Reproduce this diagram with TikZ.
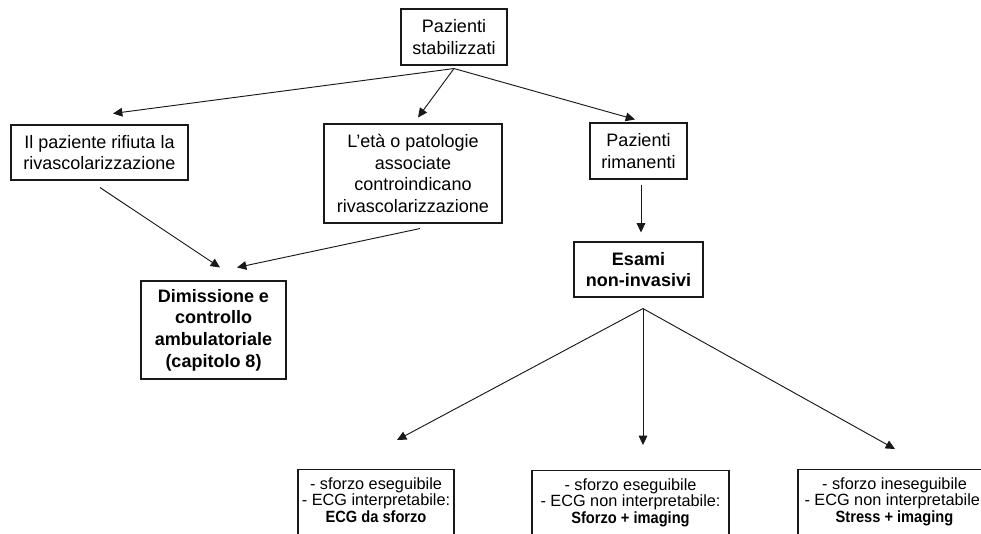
\documentclass[tikz,border=0pt]{standalone}
\usepackage{fontspec}
\setmainfont{Liberation Sans}
\newfontfamily\narrowsans[FakeStretch=0.9]{Liberation Sans}
\usetikzlibrary{arrows.meta,calc}
\newdimen\pxu \pxu=0.75pt
\begin{document}
\begin{tikzpicture}[x=0.75pt,y=-0.75pt,
  box/.style={draw=black!90, line width=0.8pt, inner sep=0pt, align=center,
    font=\fontsize{13.5pt}{16.2pt}\selectfont},
  bbox/.style={draw=black!90, line width=0.8pt, anchor=north, inner xsep=0pt, inner ysep=6pt,
    align=center, font=\fontsize{12.2pt}{12.5pt}\selectfont, text depth=45\pxu},
  arr/.style={draw=black!90, line width=0.7pt, -{Triangle[length=7pt,width=6.5pt]}}]
\useasboundingbox[fill=white] (0,0) rectangle (981,533);

\node[box, minimum width=106\pxu, minimum height=56\pxu] (top) at (454,37) {Pazienti\\stabilizzati};
\node[box, minimum width=177\pxu, minimum height=55\pxu] (rif) at (99.5,152.5) {Il paziente rifiuta la\\rivascolarizzazione};
\node[box, minimum width=178\pxu, minimum height=99\pxu] (eta) at (413,173.5) {L'età o patologie\\associate\\controindicano\\rivascolarizzazione};
\node[box, minimum width=97\pxu, minimum height=56\pxu] (rim) at (638.5,151) {Pazienti\\rimanenti};
\node[box, minimum width=129\pxu, minimum height=55\pxu, font=\fontsize{13.5pt}{16.2pt}\selectfont\bfseries] (esa) at (638.5,269.5) {Esami\\non-invasivi};
\node[box, minimum width=145\pxu, minimum height=98\pxu, font=\fontsize{13.5pt}{16.2pt}\selectfont\bfseries] (dim) at (213.5,330) {Dimissione e\\controllo\\ambulatoriale\\(capitolo 8)};

\node[bbox, minimum width=156\pxu] (b1) at (376,469) {- sforzo eseguibile\\- ECG interpretabile:\\{\narrowsans\bfseries ECG da sforzo}};
\node[bbox, minimum width=197\pxu] (b2) at (630.5,470) {- sforzo eseguibile\\- ECG non interpretabile:\\{\narrowsans\bfseries Sforzo + imaging}};
\node[bbox, minimum width=193\pxu] (b3) at (894.5,469) {- sforzo ineseguibile\\- ECG non interpretabile:\\{\narrowsans\bfseries Stress + imaging}};

\draw[arr] ($(top.south)+(0,3)$) -- ($(rif.north)+(13.5,-11)$);
\draw[arr] ($(top.south)+(0,3)$) -- ($(eta.north)+(5,-6)$);
\draw[arr] ($(top.south)+(0,3)$) -- ($(rim.north)+(-3.5,-3)$);
\draw[arr] ($(rim.south)+(2.5,5)$) -- ($(esa.north)+(2.5,-9)$);
\draw[arr] ($(rif.south)+(0.5,7)$) -- ($(dim.north)+(6.5,-13)$);
\draw[arr] ($(eta.south)+(7,5)$) -- ($(dim.north)+(23.5,-13)$);
\draw[arr] ($(esa.south)+(4.5,11)$) -- ($(b1.north)+(21,-29)$);
\draw[arr] ($(esa.south)+(4.5,11)$) -- ($(b2.north)+(12.5,-25)$);
\draw[arr] ($(esa.south)+(4.5,11)$) -- ($(b3.north)+(0.5,-20)$);
\end{tikzpicture}
\end{document}
